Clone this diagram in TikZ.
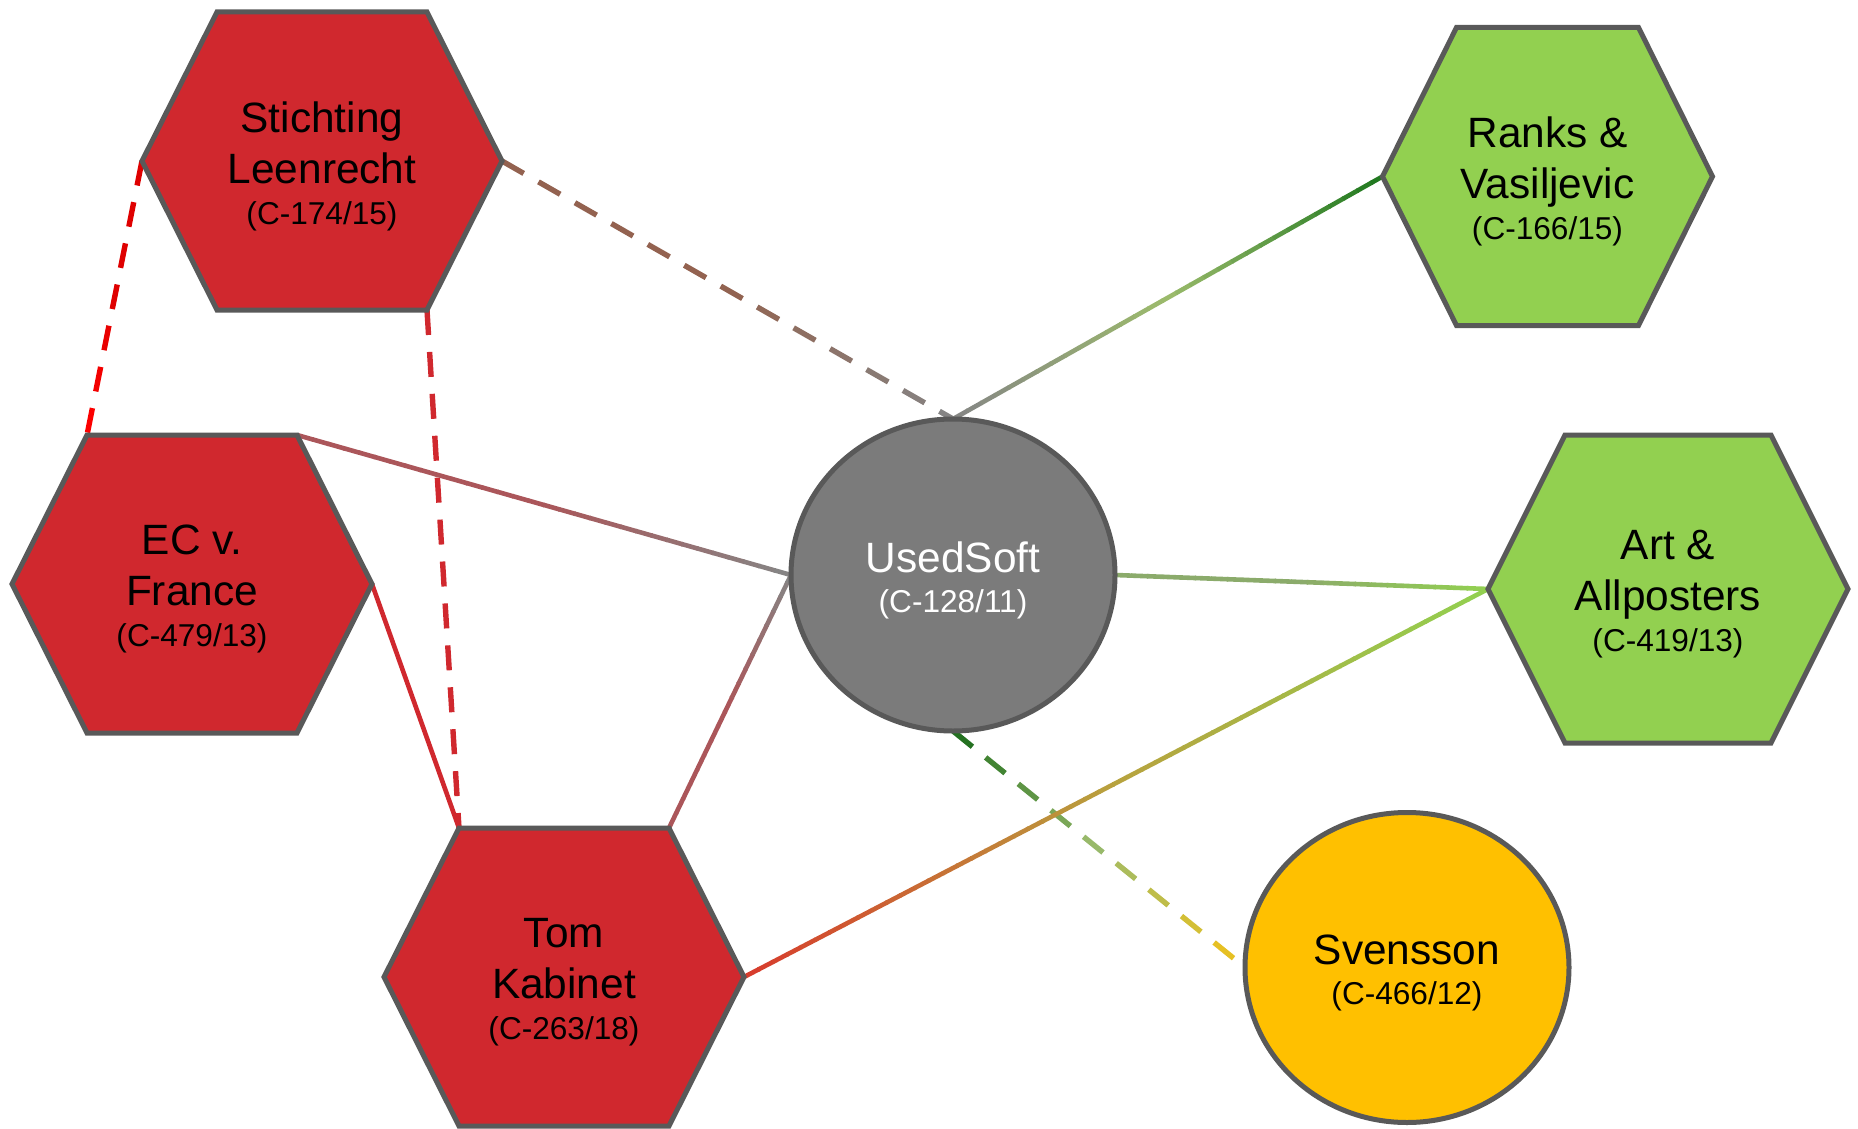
\documentclass[tikz,border=0pt]{standalone}
\usepackage{fontspec}
\setmainfont{Liberation Sans}
\usetikzlibrary{calc,shapes.geometric,backgrounds}

\definecolor{casered}{HTML}{D0282E}
\definecolor{casegreen}{HTML}{92D050}
\definecolor{usedgray}{HTML}{7B7B7B}
\definecolor{svenyellow}{HTML}{FFC000}
\definecolor{rimgray}{HTML}{595959}
\definecolor{linkgray}{HTML}{858585}
\definecolor{linkbrown}{HTML}{A0401A}
\definecolor{darkgreen}{HTML}{1E781E}
\definecolor{palegreen}{HTML}{9CBB6C}
\definecolor{linkyellow}{HTML}{F2C118}
\definecolor{darkred}{HTML}{C00000}
\definecolor{brightred}{HTML}{FF0000}
\definecolor{linkred}{HTML}{D83A2C}
\definecolor{linkolive}{HTML}{B8A23E}

\tikzset{
  caseline/.style={draw=rimgray,line width=2.5pt,line join=miter},
  casetext/.style={align=center,inner sep=0pt,yshift=-2.5pt,
    font=\fontsize{21.2}{25.5}\selectfont},
  casering/.style={ellipse,draw=rimgray,line width=2.5pt,inner sep=0pt,
    outer sep=0pt,align=center,font=\fontsize{21.2}{25.5}\selectfont},
  link/.style={line width=2.3pt,line cap=butt}
}

\newcommand{\casesub}[1]{{\fontsize{15.8}{18}\selectfont #1}}
\newcommand{\lift}{\rule{0pt}{20.5pt}}

% name, centre, half width, half top edge, half height, fill, text
\newcommand{\hexcase}[7]{%
  \path (#2) ++(-#3,0) coordinate (#1-w) (#2) ++(-#4,-#5) coordinate (#1-nw)
        (#2) ++(#4,-#5) coordinate (#1-ne) (#2) ++(#3,0) coordinate (#1-e)
        (#2) ++(#4,#5) coordinate (#1-se) (#2) ++(-#4,#5) coordinate (#1-sw);
  \draw[caseline,fill=#6] (#1-w) -- (#1-nw) -- (#1-ne) -- (#1-e) -- (#1-se)
        -- (#1-sw) -- cycle;
  \node[casetext] (#1) at (#2) {#7};
}

% from, to, start colour, middle colour, end colour, dash length (0 = solid)
\newcommand{\fadelink}[6]{%
  \path let \p1=($(#2)-(#1)$), \n1={veclen(\x1,\y1)} in
    \pgfextra{\xdef\linklen{\n1}};
  \ifdim#6pt=0pt \def\lstep{8}\def\lon{8.6}\def\lwd{2.3pt}%
  \else \def\lstep{21}\def\lon{#6}\def\lwd{2.7pt}\fi
  \pgfmathtruncatemacro{\nseg}{ceil(\linklen/\lstep)}
  \foreach \k in {1,...,\nseg}{
    \pgfmathsetmacro{\ta}{(\k-1)*\lstep/\linklen}
    \pgfmathsetmacro{\tb}{min(((\k-1)*\lstep+\lon)/\linklen,1)}
    \pgfmathsetmacro{\tm}{(\ta+\tb)/2}
    \ifdim\tm pt<0.5pt
      \pgfmathtruncatemacro{\pc}{100-200*\tm}\colorlet{segcol}{#3!\pc!#4}
    \else
      \pgfmathtruncatemacro{\pc}{200-200*\tm}\colorlet{segcol}{#4!\pc!#5}
    \fi
    \draw[link,line width=\lwd,segcol] ($(#1)!\ta!(#2)$) -- ($(#1)!\tb!(#2)$);
  }
}

\begin{document}
\begin{tikzpicture}[x=0.5pt,y=-0.5pt]
  \useasboundingbox (0,0) rectangle (1858,1129);

  \hexcase{stich}{322,161}{180}{105}{149}{casered}
    {Stichting\\Leenrecht\\[-5pt]\casesub{(C-174/15)}}
  \hexcase{ec}{192,584}{180}{105}{149}{casered}
    {EC v.\\France\\[-5pt]\casesub{(C-479/13)}}
  \hexcase{tom}{564,977}{180}{105}{149}{casered}
    {Tom\\Kabinet\\[-5pt]\casesub{(C-263/18)}}
  \hexcase{ranks}{1547.5,176.5}{165}{91}{149}{casegreen}
    {Ranks \&\\Vasiljevic\\[-5pt]\casesub{(C-166/15)}}
  \hexcase{art}{1668,589}{180}{103}{154}{casegreen}
    {Art \&\\Allposters\\[-5pt]\casesub{(C-419/13)}}

  \node[casering,fill=usedgray,text=white,minimum width=162pt,
    minimum height=156pt] (used) at (953,575)
    {\lift UsedSoft\\[-5.5pt]\casesub{(C-128/11)}};
  \node[casering,fill=svenyellow,minimum width=162pt,
    minimum height=155pt] (sven) at (1407,967.5)
    {\lift Svensson\\[-5.5pt]\casesub{(C-466/12)}};

  \begin{pgfonlayer}{background}
    \fadelink{stich-e}{used.north}{linkbrown}{linkbrown!50!linkgray}{linkgray}{12.5}
    \fadelink{stich-w}{ec-nw}{darkred}{darkred!50!brightred}{brightred}{12.5}
    \fadelink{stich-se}{tom-nw}{casered}{casered}{casered}{12.5}
    \fadelink{used.south}{sven.west}{darkgreen!90!black}{palegreen}{linkyellow}{12.5}
    \fadelink{used.north}{ranks-w}{linkgray}{palegreen}{darkgreen}{0}
    \fadelink{ec-ne}{used.west}{casered}{casered!50!linkgray}{linkgray}{0}
    \fadelink{tom-ne}{used.west}{casered}{casered!50!linkgray}{linkgray}{0}
    \fadelink{used.east}{art-w}{linkgray}{linkgray!50!casegreen}{casegreen}{0}
    \fadelink{tom-e}{art-w}{linkred}{linkolive}{casegreen}{0}
    \draw[link,casered] (ec-e) -- (tom-nw);
  \end{pgfonlayer}
\end{tikzpicture}
\end{document}
